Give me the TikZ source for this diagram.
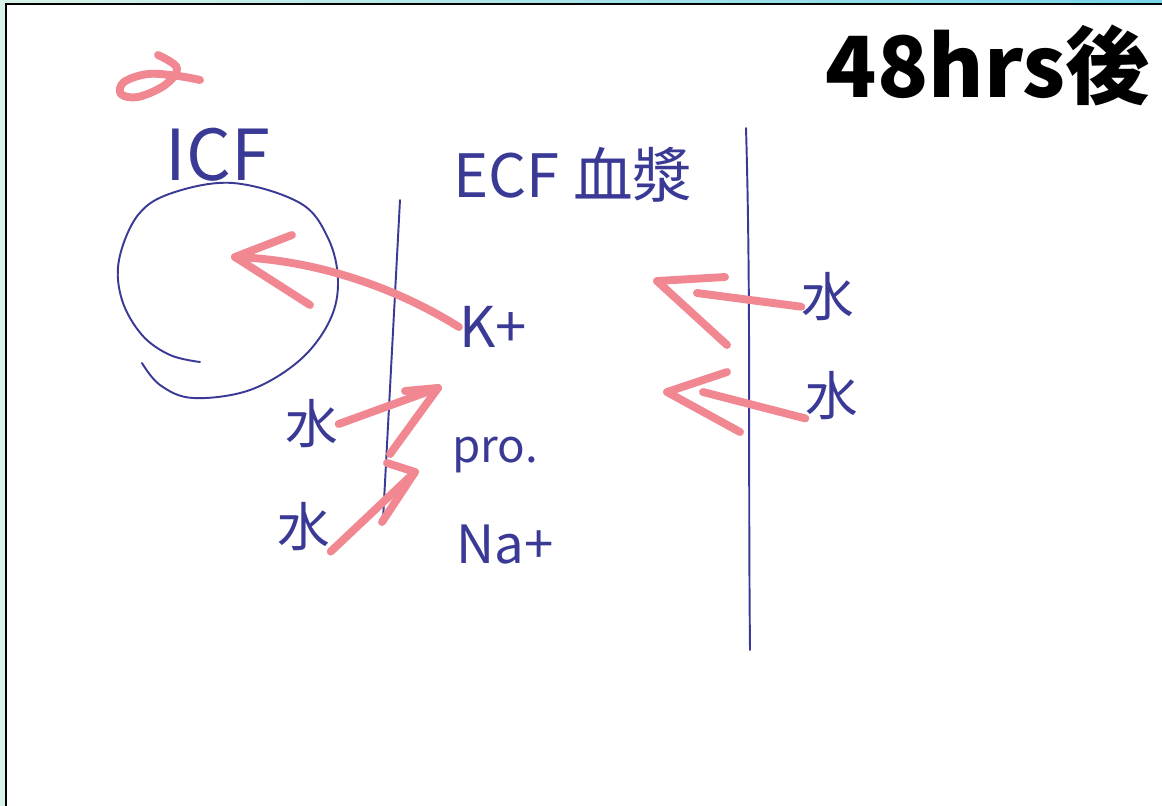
\documentclass[tikz,border=0pt]{standalone}
\usepackage{fontspec}
\newfontfamily\handfont{Noto Sans CJK JP}
\newfontfamily\titlefont{Noto Sans CJK JP}
\definecolor{penblue}{RGB}{58,58,150}
\definecolor{markerpink}{RGB}{240,135,145}
\definecolor{bgleft}{RGB}{215,242,232}
\definecolor{bgright}{RGB}{120,214,234}
\tikzset{
 ink/.style={draw=penblue, line width=1.1pt, line cap=round},
 hand/.style={text=penblue, inner sep=0pt, font=\handfont\fontsize{#1}{#1}\selectfont},
 marker/.style={draw=markerpink, line width=4.5pt, line cap=round, line join=round},
}
\begin{document}
\begin{tikzpicture}[x=0.02cm, y=-0.02cm]
\useasboundingbox (0,0) rectangle (1162,805);
\shade[left color=bgleft, right color=bgright] (0,0) rectangle (1162,805);
\draw[line width=1.6pt, fill=white] (6,4) rectangle (1175,815);

\node[anchor=base east, inner sep=0pt, font=\titlefont\bfseries\fontsize{48}{50}\selectfont] (title) at (1150,97) {48hrs後};

%\draw (0,0) grid[step=100] (1162,805);

% red 2
\draw[marker] plot[smooth, tension=0.6] coordinates {(158,55) (177,68) (165,85) (138,97) (121,94) (124,82) (148,74) (178,76) (200,80)};

% labels
\node[hand=40] (icf) at (218,155) {ICF};
\node[hand=34] (ecf) at (573,175) {ECF 血漿};
\node[hand=32] (kplus) at (493,327) {K+};
\node[hand=26] (pro) at (495,455) {pro.};
\node[hand=30] (naplus) at (505,545) {Na+};
\node[hand=30] (waterA) at (312,424) {水};
\node[hand=30] (waterB) at (304,527) {水};
\node[hand=30] (waterC) at (828,297) {水};
\node[hand=30] (waterD) at (832,396) {水};

% cell
\draw[ink] plot[smooth, tension=0.6] coordinates {(142,363) (160,385) (193,398) (250,390) (300,360) (330,320) (338,280) (328,238) (300,203) (233,183) (172,193) (138,215) (119,260) (122,300) (142,335) (170,355) (200,362)};

% membranes
\draw[ink] (400,200) -- (383,520);
\draw[ink] (746,128) .. controls (751,300) and (748,450) .. (750,650);

% arrows
\coordinate (kTip) at (235,257);
\draw[marker] (kplus.west) .. controls (400,290) and (320,260) .. (kTip);
\draw[marker] (kTip) -- (292,235);
\draw[marker] (kTip) -- (310,305);

\coordinate (aTip) at (438,388);
\draw[marker] (waterA.east) -- (aTip);
\draw[marker] (405,391) -- (aTip) -- (390,454);

\coordinate (bTip) at (415,472);
\draw[marker] (waterB.south east) -- (bTip);
\draw[marker] (387,463) -- (bTip) -- (382,522);

\coordinate (cTip) at (657,281);
\draw[marker] (waterC.200) -- (697,293);
\draw[marker] (725,277) -- (cTip) -- (727,345);

\coordinate (dTip) at (667,392);
\draw[marker] (waterD.220) -- (703,392);
\draw[marker] (727,372) -- (dTip) -- (740,432);

\end{tikzpicture}
\end{document}
